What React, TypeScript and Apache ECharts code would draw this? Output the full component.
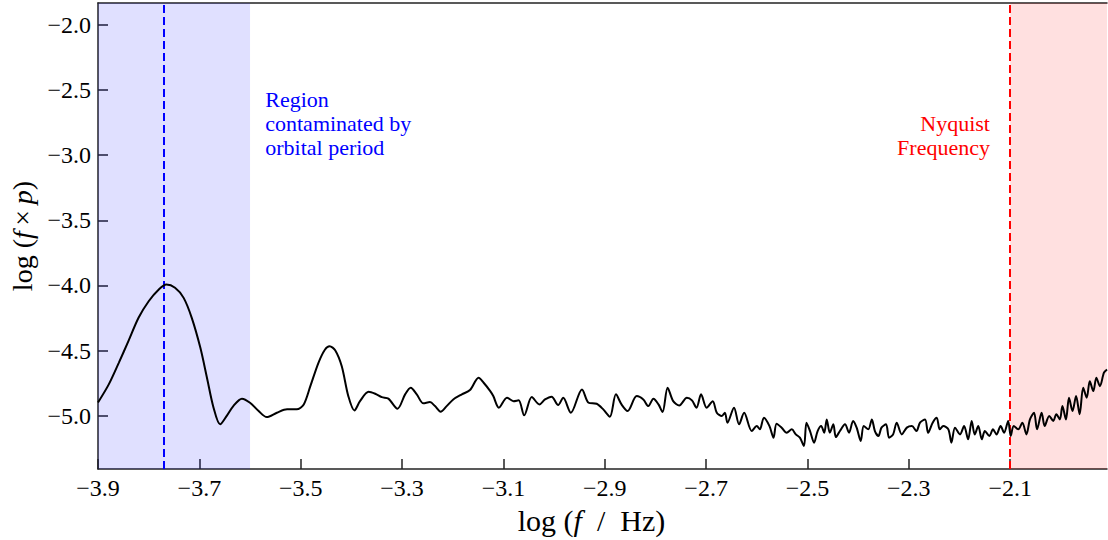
import React, { useEffect, useRef } from "react";
import * as echarts from "echarts";

// log(f / Hz)
const logF: number[] = [
  -3.900, -3.879, -3.859, -3.840, -3.820, -3.800, -3.780, -3.765, -3.748, -3.731,
  -3.715, -3.698, -3.685, -3.672, -3.659, -3.646, -3.633, -3.616, -3.600, -3.583,
  -3.567, -3.547, -3.527, -3.508, -3.494, -3.481, -3.465, -3.452, -3.443, -3.432,
  -3.419, -3.406, -3.394, -3.383, -3.366, -3.353, -3.340, -3.327, -3.309, -3.294,
  -3.283, -3.271, -3.258, -3.245, -3.235, -3.224, -3.212, -3.199, -3.182, -3.166,
  -3.149, -3.139, -3.126, -3.120, -3.109, -3.093, -3.080, -3.070, -3.059, -3.044,
  -3.029, -3.018, -3.005, -2.992, -2.982, -2.967, -2.945, -2.932, -2.916, -2.903,
  -2.890, -2.878, -2.867, -2.855, -2.837, -2.824, -2.814, -2.804, -2.794, -2.786,
  -2.776, -2.765, -2.753, -2.738, -2.728, -2.719, -2.710, -2.699, -2.687, -2.679,
  -2.669, -2.663, -2.658, -2.645, -2.635, -2.625, -2.610, -2.600, -2.594, -2.586,
  -2.575, -2.567, -2.561, -2.551, -2.541, -2.531, -2.523, -2.515, -2.507, -2.502,
  -2.495, -2.487, -2.480, -2.473, -2.467, -2.462, -2.456, -2.449, -2.444, -2.436,
  -2.426, -2.418, -2.410, -2.403, -2.395, -2.389, -2.380, -2.373, -2.367, -2.360,
  -2.354, -2.345, -2.339, -2.331, -2.324, -2.314, -2.304, -2.294, -2.285, -2.278,
  -2.268, -2.262, -2.253, -2.245, -2.239, -2.232, -2.222, -2.216, -2.209, -2.199,
  -2.191, -2.183, -2.176, -2.170, -2.163, -2.156, -2.150, -2.141, -2.134, -2.127,
  -2.119, -2.112, -2.104, -2.099, -2.093, -2.084, -2.076, -2.068, -2.061, -2.053,
  -2.047, -2.038, -2.032, -2.023, -2.015, -2.009, -2.002, -1.997, -1.990, -1.984,
  -1.977, -1.970, -1.963, -1.956, -1.949, -1.943, -1.936, -1.930, -1.923, -1.915,
  -1.909,
];

// log(f × p)
const logFP: number[] = [
  -4.897, -4.760, -4.593, -4.427, -4.248, -4.121, -4.031, -3.993, -4.018, -4.095,
  -4.248, -4.478, -4.707, -4.937, -5.065, -5.000, -4.925, -4.868, -4.899, -4.963,
  -5.009, -4.976, -4.950, -4.950, -4.912, -4.772, -4.593, -4.491, -4.466, -4.496,
  -4.619, -4.849, -4.958, -4.887, -4.815, -4.830, -4.856, -4.868, -4.945, -4.835,
  -4.784, -4.835, -4.904, -4.894, -4.925, -4.968, -4.925, -4.874, -4.835, -4.802,
  -4.707, -4.746, -4.810, -4.848, -4.937, -4.861, -4.887, -4.881, -4.996, -4.856,
  -4.912, -4.874, -4.853, -4.917, -4.861, -4.976, -4.797, -4.899, -4.907, -4.950,
  -5.006, -4.835, -4.912, -4.963, -4.848, -4.874, -4.925, -4.868, -4.912, -4.971,
  -4.784, -4.887, -4.920, -4.861, -4.881, -4.937, -4.835, -4.937, -4.887, -4.976,
  -5.000, -4.976, -5.052, -4.937, -5.065, -4.976, -5.116, -5.078, -5.103, -5.014,
  -5.078, -5.167, -5.060, -5.090, -5.129, -5.103, -5.142, -5.167, -5.231, -5.052,
  -5.116, -5.205, -5.116, -5.078, -5.129, -5.027, -5.129, -5.065, -5.162, -5.116,
  -5.065, -5.129, -5.039, -5.090, -5.192, -5.078, -5.103, -5.027, -5.116, -5.154,
  -5.090, -5.065, -5.167, -5.142, -5.052, -5.142, -5.090, -5.078, -5.116, -5.052,
  -5.027, -5.129, -5.052, -5.014, -5.103, -5.078, -5.103, -5.205, -5.090, -5.142,
  -5.078, -5.180, -5.039, -5.142, -5.078, -5.180, -5.116, -5.154, -5.103, -5.142,
  -5.078, -5.129, -5.039, -5.154, -5.078, -5.103, -5.052, -5.142, -5.027, -4.976,
  -5.103, -4.976, -5.078, -5.000, -5.039, -4.988, -5.027, -4.925, -5.027, -4.861,
  -4.963, -4.848, -4.988, -4.784, -4.861, -4.734, -4.810, -4.707, -4.772, -4.669,
  -4.644,
];

const xTicks: number[] = [-3.9, -3.7, -3.5, -3.3, -3.1, -2.9, -2.7, -2.5, -2.3, -2.1];
const yTicks: number[] = [-5.0, -4.5, -4.0, -3.5, -3.0, -2.5, -2.0];

const xRange: number[] = [-3.9, -1.909];
const yRange: number[] = [-5.408, -1.834];

const orbitalRegion: number[] = [-3.9, -3.6];
const orbitalPeriod = -3.765;
const nyquist = -2.1;

const regionNote = { x: -3.57, y: -3.035, text: "Region\ncontaminated by\norbital period" };
const nyquistNote = { x: -2.14, y: -3.035, text: "Nyquist\nFrequency" };

const SERIF = "'Liberation Serif', 'DejaVu Serif', serif";

const fmt = (v: number) => (v < 0 ? "\u2212" : "") + Math.abs(v).toFixed(1);

export default function App() {
  const ref = useRef<HTMLDivElement>(null);

  useEffect(() => {
    if (!ref.current) return;
    const chart = echarts.init(ref.current, undefined, { renderer: "svg" });
    const data = logF.map((x, i) => [x, logFP[i]]);

    const axisLine = { show: true, onZero: false, lineStyle: { color: "#222", width: 1.5 } };

    chart.setOption({
      animation: false,
      backgroundColor: "#fff",
      grid: { left: 98, top: 3, right: 1, bottom: 70, containLabel: false },
      xAxis: [
        {
          type: "value",
          min: xRange[0],
          max: xRange[1],
          position: "bottom",
          axisLine,
          splitLine: { show: false },
          axisTick: {
            show: true,
            inside: true,
            length: 10,
            lineStyle: { color: "#222", width: 1.5 },
            customValues: xTicks,
          },
          axisLabel: {
            show: true,
            margin: 7,
            fontFamily: SERIF,
            fontSize: 24,
            color: "#000",
            customValues: xTicks,
            formatter: fmt,
          },
          name: "log ({i|f}\u2002/\u2002Hz)",
          nameLocation: "middle",
          nameGap: 34,
          nameTextStyle: {
            fontFamily: SERIF,
            fontSize: 30,
            color: "#000",
            padding: [0, 22, 0, 0],
            rich: { i: { fontFamily: SERIF, fontSize: 30, fontStyle: "italic", color: "#000" } },
          },
        },
        {
          type: "value",
          min: xRange[0],
          max: xRange[1],
          position: "top",
          axisLine,
          splitLine: { show: false },
          axisTick: { show: false },
          axisLabel: { show: false },
        },
      ],
      yAxis: {
        type: "value",
        min: yRange[0],
        max: yRange[1],
        axisLine,
        splitLine: { show: false },
        axisTick: {
          show: true,
          inside: true,
          length: 10,
          lineStyle: { color: "#222", width: 1.5 },
          customValues: yTicks,
        },
        axisLabel: {
          show: true,
          margin: 7,
          fontFamily: SERIF,
          fontSize: 24,
          color: "#000",
          customValues: yTicks,
          formatter: fmt,
        },
        name: "log ({i|f}\u2009\u00d7\u2009{i|p})",
        nameLocation: "middle",
        nameGap: 60,
        nameTextStyle: {
          fontFamily: SERIF,
          fontSize: 28,
          color: "#000",
          rich: { i: { fontFamily: SERIF, fontSize: 28, fontStyle: "italic", color: "#000" } },
        },
      },
      series: [
        {
          type: "line",
          data,
          smooth: 0.3,
          showSymbol: false,
          symbol: "none",
          clip: true,
          lineStyle: { color: "#000", width: 2 },
          z: 5,
          markArea: {
            silent: true,
            data: [
              [
                { xAxis: orbitalRegion[0], itemStyle: { color: "rgba(0,0,255,0.12)" } },
                { xAxis: orbitalRegion[1] },
              ],
              [
                { xAxis: nyquist, itemStyle: { color: "rgba(255,0,0,0.12)" } },
                { xAxis: xRange[1] },
              ],
            ],
          },
          markLine: {
            silent: true,
            symbol: "none",
            label: { show: false },
            data: [
              { xAxis: orbitalPeriod, lineStyle: { color: "#0000ff", type: [8, 4], width: 2 } },
              { xAxis: nyquist, lineStyle: { color: "#ff0000", type: [8, 4], width: 2 } },
            ],
          },
        },
      ],
    });

    const p1 = chart.convertToPixel({ gridIndex: 0 }, [regionNote.x, regionNote.y]) as number[];
    const p2 = chart.convertToPixel({ gridIndex: 0 }, [nyquistNote.x, nyquistNote.y]) as number[];
    chart.setOption({
      graphic: [
        {
          type: "text",
          x: p1[0],
          y: p1[1],
          z: 10,
          style: {
            text: regionNote.text,
            fill: "#0000ff",
            font: `22px ${SERIF}`,
            lineHeight: 24,
            align: "left",
            verticalAlign: "bottom",
          },
        },
        {
          type: "text",
          x: p2[0],
          y: p2[1],
          z: 10,
          style: {
            text: nyquistNote.text,
            fill: "#ff0000",
            font: `22px ${SERIF}`,
            lineHeight: 24,
            align: "right",
            verticalAlign: "bottom",
          },
        },
      ],
    });

    return () => chart.dispose();
  }, []);

  return (
    <div
      ref={ref}
      style={{ position: "fixed", left: 0, top: 0, width: 1108, height: 540, background: "#fff" }}
    />
  );
}
